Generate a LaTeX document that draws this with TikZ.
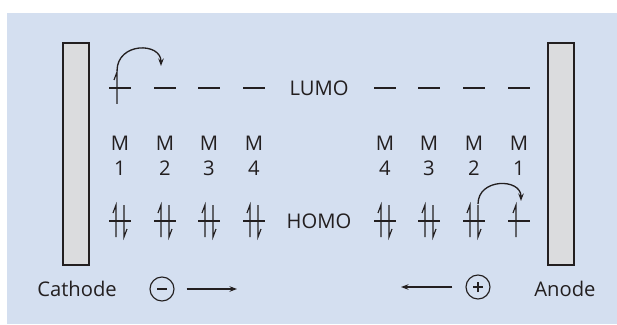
\documentclass[tikz,border=0pt]{standalone}
\usepackage{fontspec}
\setmainfont{Open Sans}
\usetikzlibrary{arrows.meta,positioning}
\definecolor{panelBlue}{HTML}{D4DFF0}
\definecolor{railGrey}{HTML}{DBDCDE}
\definecolor{inkDark}{HTML}{231F20}
\tikzset{
  >={Stealth[length=1.5mm,width=1.1mm]},
  electrode/.style={draw=inkDark, fill=railGrey, line width=0.7pt,
              minimum width=0.52cm, minimum height=4.44cm, inner sep=0pt},
  txt/.style={font=\fontsize{11.5}{14}\selectfont, text=inkDark, inner sep=0pt, align=center},
  orb/.style={draw=inkDark, line width=0.75pt},
  spin/.style={draw=inkDark, line width=0.65pt},
  hop/.style={->, draw=inkDark, line width=0.75pt},
  drift/.style={->, draw=inkDark, line width=0.65pt},
  charge/.style={circle, draw=inkDark, line width=0.65pt, minimum size=0.48cm, inner sep=0pt},
  emptyorb/.pic={\draw[orb] (-11,0) -- (11,0);},
  singleorb/.pic={\draw[orb] (-11,0) -- (11,0);
    \draw[spin] (-3,16) -- (-3,-16) -- (-6,-8);
    \coordinate (-top) at (-3,-17);},
  pairorb/.pic={\draw[orb] (-11,0) -- (11,0);
    \draw[spin] (-4,16) -- (-4,-16) -- (-7,-8);
    \draw[spin] (4,-16) -- (4,16) -- (7,8);
    \coordinate (-top) at (4,-17);},
}

\begin{document}
\begin{tikzpicture}[x=0.02cm,y=-0.02cm]
  \useasboundingbox (0,0) rectangle (617,324);
  \fill[panelBlue] (7,13) rectangle (617,324);

  % electrodes
  \node[electrode] (cathode) at (76,154){};
  \node[electrode] (anode) at (561,154){};
  \node[txt] (cathodeLbl) at (77,289){Cathode};
  \node[txt] (anodeLbl) at (565,289){Anode};

  % LUMO row
  \pic (lumoA1) at (120,88) {singleorb};
  \pic (lumoA2) at (165,88) {emptyorb};
  \pic (lumoA3) at (209,88) {emptyorb};
  \pic (lumoA4) at (254,88) {emptyorb};
  \node[txt] (lumo) at (319,88){LUMO};
  \pic (lumoB4) at (385,88) {emptyorb};
  \pic (lumoB3) at (429,88) {emptyorb};
  \pic (lumoB2) at (474,88) {emptyorb};
  \pic (lumoB1) at (519,88) {emptyorb};

  % molecule labels
  \node[txt] (mA1) at (120,156){M\\1};
  \node[txt] (mA2) at (165,156){M\\2};
  \node[txt] (mA3) at (209,156){M\\3};
  \node[txt] (mA4) at (254,156){M\\4};
  \node[txt] (mB4) at (385,156){M\\4};
  \node[txt] (mB3) at (429,156){M\\3};
  \node[txt] (mB2) at (474,156){M\\2};
  \node[txt] (mB1) at (519,156){M\\1};

  % HOMO row
  \pic (homoA1) at (120,221) {pairorb};
  \pic (homoA2) at (165,221) {pairorb};
  \pic (homoA3) at (209,221) {pairorb};
  \pic (homoA4) at (254,221) {pairorb};
  \node[txt] (homo) at (319,221){HOMO};
  \pic (homoB4) at (385,221) {pairorb};
  \pic (homoB3) at (429,221) {pairorb};
  \pic (homoB2) at (474,221) {pairorb};
  \pic (homoB1) at (519,221) {singleorb};

  % electron hops
  \coordinate (lumoA2in) at (161,66);
  \draw[hop] (lumoA1-top) .. controls (117,42) and (161,42) .. (lumoA2in);
  \coordinate (homoB1in) at (521,201);
  \draw[hop] (homoB2-top) .. controls (478,178) and (521,178) .. (homoB1in);

  % charges
  \node[charge] (minus) at (162,289){};
  \draw[inkDark, line width=0.9pt] ([xshift=-0.1cm]minus.center) -- ([xshift=0.1cm]minus.center);
  \node[charge] (plus) at (478,287){};
  \draw[inkDark, line width=0.9pt] ([xshift=-0.1cm]plus.center) -- ([xshift=0.1cm]plus.center)
    ([yshift=-0.1cm]plus.center) -- ([yshift=0.1cm]plus.center);
  \coordinate (minusTo) at (237,289);
  \coordinate (plusTo) at (401,287);
  \draw[drift] ([xshift=0.24cm]minus.east) -- (minusTo);
  \draw[drift] ([xshift=-0.26cm]plus.west) -- (plusTo);
\end{tikzpicture}
\end{document}
